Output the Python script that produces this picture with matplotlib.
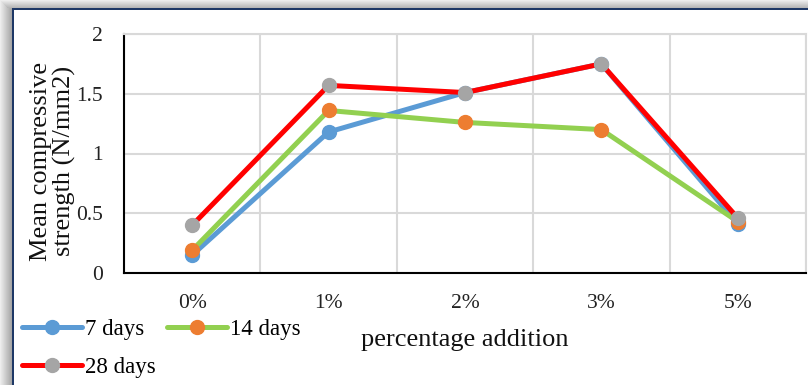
import numpy as np
import matplotlib.pyplot as plt
from matplotlib.ticker import FixedLocator

plt.rcParams['font.family'] = ['Liberation Serif', 'DejaVu Serif']

# compressive strength by percentage addition
additions = ['0%', '1%', '2%', '3%', '5%']
days_7 = [0.15, 1.18, 1.51, 1.75, 0.41]
days_14 = [0.19, 1.36, 1.26, 1.20, 0.43]
days_28 = [0.40, 1.57, 1.51, 1.75, 0.46]

fig = plt.figure(figsize=(8.08, 3.85), dpi=100)

# frame with a soft shadow on top and left
bg = fig.add_axes([0, 0, 1, 1], zorder=-5)
H, W = 385, 808
img = np.ones((H, W, 3))
for i in range(12):
    v = 0.93 - 0.025 * i
    img[min(i, 8):, i, :] = np.minimum(img[min(i, 8):, i, :], v)
for j in range(8):
    v = 0.93 - 0.03 * j
    img[j, min(j, 12):, :] = np.minimum(img[j, min(j, 12):, :], v)
img[8:10, 12:, :] = [0.12, 0.22, 0.40]
img[8:, 12:14, :] = [0.12, 0.22, 0.40]
bg.imshow(img, aspect='auto', interpolation='nearest')
bg.axis('off')

ax = fig.add_axes([124 / 808, (385 - 273) / 385, 682 / 808, 239 / 385])
x = np.arange(len(additions))
l7, = ax.plot(x, days_7, color='#5B9BD5', lw=3.6, marker='o', ms=10,
              mfc='#5B9BD5', mec='#5B9BD5', label='7 days', solid_capstyle='round')
l14, = ax.plot(x, days_14, color='#92D050', lw=3.6, marker='o', ms=10,
               mfc='#ED7D31', mec='#ED7D31', label='14 days', solid_capstyle='round')
l28, = ax.plot(x, days_28, color='#FF0000', lw=3.6, marker='o', ms=10,
               mfc='#A5A5A5', mec='#A5A5A5', label='28 days', solid_capstyle='round')

ax.set_xlim(-0.5, 4.5)
ax.set_ylim(0, 2)
ax.set_xticks(x)
ax.set_xticklabels(additions)
ax.xaxis.set_minor_locator(FixedLocator(np.arange(-0.5, 4.6, 1)))
ax.set_yticks([0, 0.5, 1, 1.5, 2])
ax.set_yticklabels(['0', '0.5', '1', '1.5', '2'])
ax.grid(True, which='minor', axis='x', color='#D9D9D9', lw=1.5)
ax.grid(True, which='major', axis='y', color='#D9D9D9', lw=1.5)
ax.set_axisbelow(True)
ax.tick_params(which='both', length=0)
ax.tick_params(axis='x', pad=15, labelsize=15.5, colors='#222222')
ax.tick_params(axis='y', pad=15, labelsize=15.5, colors='#222222')
for s in ['top', 'right']:
    ax.spines[s].set_color('#D9D9D9')
    ax.spines[s].set_linewidth(1.5)
for s in ['left', 'bottom']:
    ax.spines[s].set_color('black')
    ax.spines[s].set_linewidth(1.5)

fig.text(53 / 808, (385 - 161) / 385, 'Mean compressive\nstrength (N/mm2)',
         rotation=90, ha='center', va='center', fontsize=19,
         linespacing=1.0, color='#111111')
fig.text(465 / 808, (385 - 340) / 385, 'percentage addition',
         ha='center', va='center', fontsize=19, color='#111111')

# row-wise order: 7 days, 14 days / 28 days
fig.legend([l7, l28, l14], ['7 days', '28 days', '14 days'],
           loc='upper left', bbox_to_anchor=(22 / 808, (385 - 319) / 385),
           ncol=2, frameon=False, fontsize=16.5, handlelength=2.6,
           handletextpad=0.15, columnspacing=0.5, labelspacing=0.75,
           borderaxespad=0, borderpad=0)

fig.savefig('out.png', dpi=100)
